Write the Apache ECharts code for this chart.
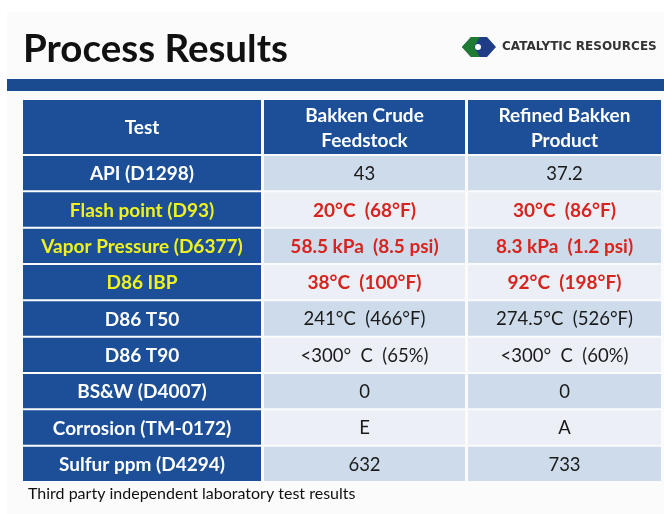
<!DOCTYPE html>
<html><head><meta charset="utf-8">
<script src="https://cdn.jsdelivr.net/npm/echarts@6/dist/echarts.min.js"></script>
<style>html,body{margin:0;padding:0;background:#fff}#c{width:664px;height:514px}</style>
</head><body><div id="c"></div>
<script>
const headers = ['Test', 'Bakken Crude\nFeedstock', 'Refined Bakken\nProduct'];
const tests = ['API (D1298)', 'Flash point (D93)', 'Vapor Pressure (D6377)', 'D86 IBP', 'D86 T50', 'D86 T90', 'BS&W (D4007)', 'Corrosion (TM-0172)', 'Sulfur ppm (D4294)'];
const feedstock = ['43', '20°C  (68°F)', '58.5 kPa  (8.5 psi)', '38°C  (100°F)', '241°C  (466°F)', '<300°  C  (65%)', '0', 'E', '632'];
const product = ['37.2', '30°C  (86°F)', '8.3 kPa  (1.2 psi)', '92°C  (198°F)', '274.5°C  (526°F)', '<300°  C  (60%)', '0', 'A', '733'];
const highlighted = ['Flash point (D93)', 'Vapor Pressure (D6377)', 'D86 IBP'];
const footnote = 'Third party independent laboratory test results';

const FONT = 'Lato, "Open Sans", sans-serif';
const BLUE = '#1c4f98';
const colLeft = [22, 263, 467];
const colWidth = [240, 203, 195];
const headTop = 99, headH = 56, bodyTop = 155, bodyH = 327;
const columns = [tests, feedstock, product];

const grids = [], xAxes = [], yAxes = [], series = [];
for (let j = 0; j < 3; j++) {
  grids.push({left: colLeft[j], top: headTop, width: colWidth[j], height: headH});
}
for (let j = 0; j < 3; j++) {
  grids.push({left: colLeft[j], top: bodyTop, width: colWidth[j], height: bodyH});
}
for (let g = 0; g < 6; g++) {
  const j = g % 3;
  xAxes.push({type: 'category', gridIndex: g, data: [headers[j]], show: false});
  yAxes.push({type: 'category', gridIndex: g, inverse: true, data: g < 3 ? ['header'] : tests, show: false});
}
function cell(c, s, fill, text, color, font) {
  const gap = 1;
  return {type: 'group', children: [
    {type: 'rect', shape: {x: c[0] - s[0] / 2 + gap, y: c[1] - s[1] / 2 + gap, width: s[0] - 2 * gap, height: s[1] - 2 * gap}, style: {fill: fill}},
    {type: 'text', x: c[0], y: c[1] + 1, style: {text: text, fill: color, font: font, align: 'center', verticalAlign: 'middle', lineHeight: 25}}
  ]};
}
for (let j = 0; j < 3; j++) {
  series.push({
    type: 'custom', xAxisIndex: j, yAxisIndex: j, silent: true,
    data: [[0, 0]],
    renderItem: (params, api) => {
      const c = api.coord([api.value(0), api.value(1)]);
      const s = api.size([1, 1]);
      return cell(c, s, BLUE, headers[j], '#ffffff', 'bold 19px ' + FONT);
    }
  });
  const vals = columns[j];
  series.push({
    type: 'custom', xAxisIndex: 3 + j, yAxisIndex: 3 + j, silent: true,
    data: vals.map((v, i) => [0, i]),
    renderItem: (params, api) => {
      const i = api.value(1);
      const c = api.coord([api.value(0), i]);
      const s = api.size([1, 1]);
      const hl = highlighted.indexOf(tests[i]) >= 0;
      if (j === 0) {
        return cell(c, s, BLUE, vals[i], hl ? '#f0f21e' : '#ffffff', 'bold 19px ' + FONT);
      }
      const fill = i % 2 === 0 ? '#cddbeb' : '#ecf0f6';
      return cell(c, s, fill, vals[i], hl ? '#d8241f' : '#1a1a1a', (hl ? 'bold 19px ' : '18.5px ') + FONT);
    }
  });
}

const chart = echarts.init(document.getElementById('c'), null, {renderer: 'canvas'});
chart.setOption({
  backgroundColor: '#ffffff',
  animation: false,
  title: [
    {text: 'Process Results', left: 18, top: 25, textStyle: {fontFamily: FONT, fontWeight: 'bold', fontSize: 38.5, color: '#111'}},
    {text: footnote, left: 23, top: 481, textStyle: {fontFamily: FONT, fontWeight: 'normal', fontSize: 16, color: '#111'}}
  ],
  grid: grids, xAxis: xAxes, yAxis: yAxes, series: series,
  graphic: [
    {type: 'rect', z: -10, shape: {x: 7, y: 12, width: 657, height: 502}, style: {fill: '#fbfbfb'}},
    {type: 'rect', shape: {x: 7, y: 79, width: 657, height: 12}, style: {fill: '#1a4b90'}},
    {type: 'polygon', shape: {points: [[462, 47], [471, 37], [487, 37], [496, 47], [487, 57], [471, 57]]}, style: {fill: '#1f3d86'}},
    {type: 'polygon', shape: {points: [[462, 47], [471, 37], [480, 37], [474, 47], [480, 57], [471, 57]]}, style: {fill: '#1f7a34'}},
    {type: 'circle', shape: {cx: 478, cy: 47, r: 3}, style: {fill: '#ffffff'}},
    {type: 'text', x: 502, y: 47, style: {text: 'CATALYTIC RESOURCES', font: 'bold 12px "DejaVu Sans"', fill: '#333', verticalAlign: 'middle'}}
  ]
});
</script>
</body></html>
